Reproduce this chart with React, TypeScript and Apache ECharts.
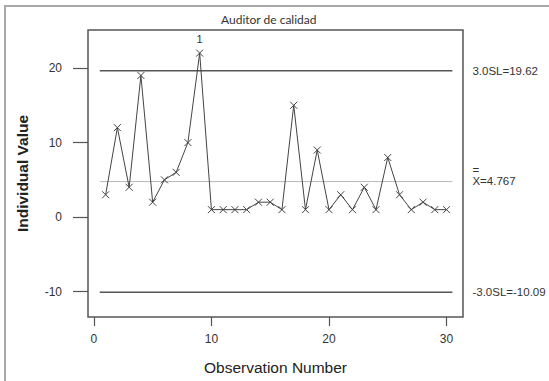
import React, { useEffect, useRef } from "react";
import * as echarts from "echarts";

// Individual values chart (I-chart) for the quality auditor
const observations = [
  1, 2, 3, 4, 5, 6, 7, 8, 9, 10, 11, 12, 13, 14, 15,
  16, 17, 18, 19, 20, 21, 22, 23, 24, 25, 26, 27, 28, 29, 30,
];
const values = [
  3, 12, 4, 19, 2, 5, 6, 10, 22, 1, 1, 1, 1, 2, 2,
  1, 15, 1, 9, 1, 3, 1, 4, 1, 8, 3, 1, 2, 1, 1,
];
const ucl = 19.62;
const centerLine = 4.767;
const lcl = -10.09;
const limitSpan = [0.5, 30.5];
const yTicks = [-10, 0, 10, 20];
const xTicks = [0, 10, 20, 30];

const FONT = "Arial, 'Liberation Sans', sans-serif";
const X_MARK = "path://M0,0L10,10M10,0L0,10";

export default function App() {
  const ref = useRef<HTMLDivElement>(null);

  useEffect(() => {
    if (!ref.current) return;
    const chart = echarts.init(ref.current, undefined, { renderer: "svg" });

    const pointData = observations.map((n, i) => {
      const v = values[i];
      // points beyond the 3-sigma limits are flagged with test number 1
      if (v > ucl || v < lcl) {
        return {
          value: [n, v],
          label: {
            show: true,
            formatter: "1",
            position: "top" as const,
            distance: 3,
            color: "#333",
            fontSize: 11,
            fontFamily: FONT,
          },
        };
      }
      return { value: [n, v] };
    });

    const limitSeries = (y: number, text: string, color: string, width: number) => ({
      type: "line",
      silent: true,
      symbol: "none",
      data: limitSpan.map((x) => [x, y]),
      lineStyle: { color, width },
      endLabel: {
        show: true,
        formatter: text,
        distance: 20,
        color: "#333",
        fontSize: 11.5,
        fontFamily: FONT,
        align: "left",
      },
      z: 1,
    });

    chart.setOption({
      animation: false,
      title: {
        text: "Auditor de calidad",
        left: 216,
        top: 8,
        textStyle: {
          fontFamily: "Lato, 'Open Sans', sans-serif",
          fontSize: 12,
          fontWeight: "normal",
          color: "#333",
        },
      },
      graphic: [
        {
          type: "line",
          shape: { x1: 4, y1: 6, x2: 549, y2: 6 },
          style: { stroke: "#a8a8a8", lineWidth: 2 },
          silent: true,
        },
        {
          type: "line",
          shape: { x1: 5, y1: 6, x2: 5, y2: 381 },
          style: { stroke: "#a8a8a8", lineWidth: 2 },
          silent: true,
        },
      ],
      grid: {
        left: 88,
        top: 30,
        right: 86,
        bottom: 64,
        show: true,
        borderColor: "#555",
        borderWidth: 1.5,
        backgroundColor: "transparent",
      },
      xAxis: {
        type: "value",
        min: -0.5,
        max: 31.4,
        name: "Observation Number",
        nameLocation: "middle",
        nameGap: 42,
        nameTextStyle: { fontFamily: FONT, fontSize: 15.5, color: "#222" },
        axisLine: { show: false, onZero: false },
        axisTick: {
          show: true,
          length: 9,
          customValues: xTicks,
          lineStyle: { color: "#555", width: 1.2 },
        },
        axisLabel: {
          customValues: xTicks,
          margin: 16,
          fontFamily: FONT,
          fontSize: 12,
          color: "#333",
        },
        splitLine: { show: false },
      },
      yAxis: {
        type: "value",
        min: -13.4,
        max: 25.1,
        name: "Individual Value",
        nameLocation: "middle",
        nameGap: 58,
        nameTextStyle: {
          fontFamily: FONT,
          fontSize: 15.5,
          fontWeight: "bold",
          color: "#222",
        },
        axisLine: { show: false, onZero: false },
        axisTick: {
          show: true,
          length: 15,
          customValues: yTicks,
          lineStyle: { color: "#555", width: 1.2 },
        },
        axisLabel: {
          customValues: yTicks,
          margin: 26,
          fontFamily: FONT,
          fontSize: 12,
          color: "#333",
        },
        splitLine: { show: false },
      },
      series: [
        limitSeries(ucl, "3.0SL=19.62", "#555", 1.5),
        {
          ...limitSeries(centerLine, "", "#b8b8b8", 1),
          endLabel: {
            show: true,
            formatter: "{bar|=}\n{x|X=4.767}",
            distance: 20,
            offset: [0, -5],
            align: "left",
            color: "#333",
            fontFamily: FONT,
            rich: {
              bar: { fontSize: 11.5, lineHeight: 8, color: "#333", fontFamily: FONT },
              x: { fontSize: 11.5, lineHeight: 13, color: "#333", fontFamily: FONT },
            },
          },
        },
        limitSeries(lcl, "-3.0SL=-10.09", "#555", 1.5),
        {
          type: "line",
          silent: true,
          data: pointData,
          symbol: X_MARK,
          symbolSize: 7,
          lineStyle: { color: "#444", width: 1 },
          itemStyle: { color: "none", borderColor: "#444", borderWidth: 1 },
          z: 3,
        },
      ],
    });

    return () => chart.dispose();
  }, []);

  return (
    <div
      ref={ref}
      style={{ position: "fixed", left: 0, top: 0, width: 549, height: 381, background: "#fff" }}
    />
  );
}
